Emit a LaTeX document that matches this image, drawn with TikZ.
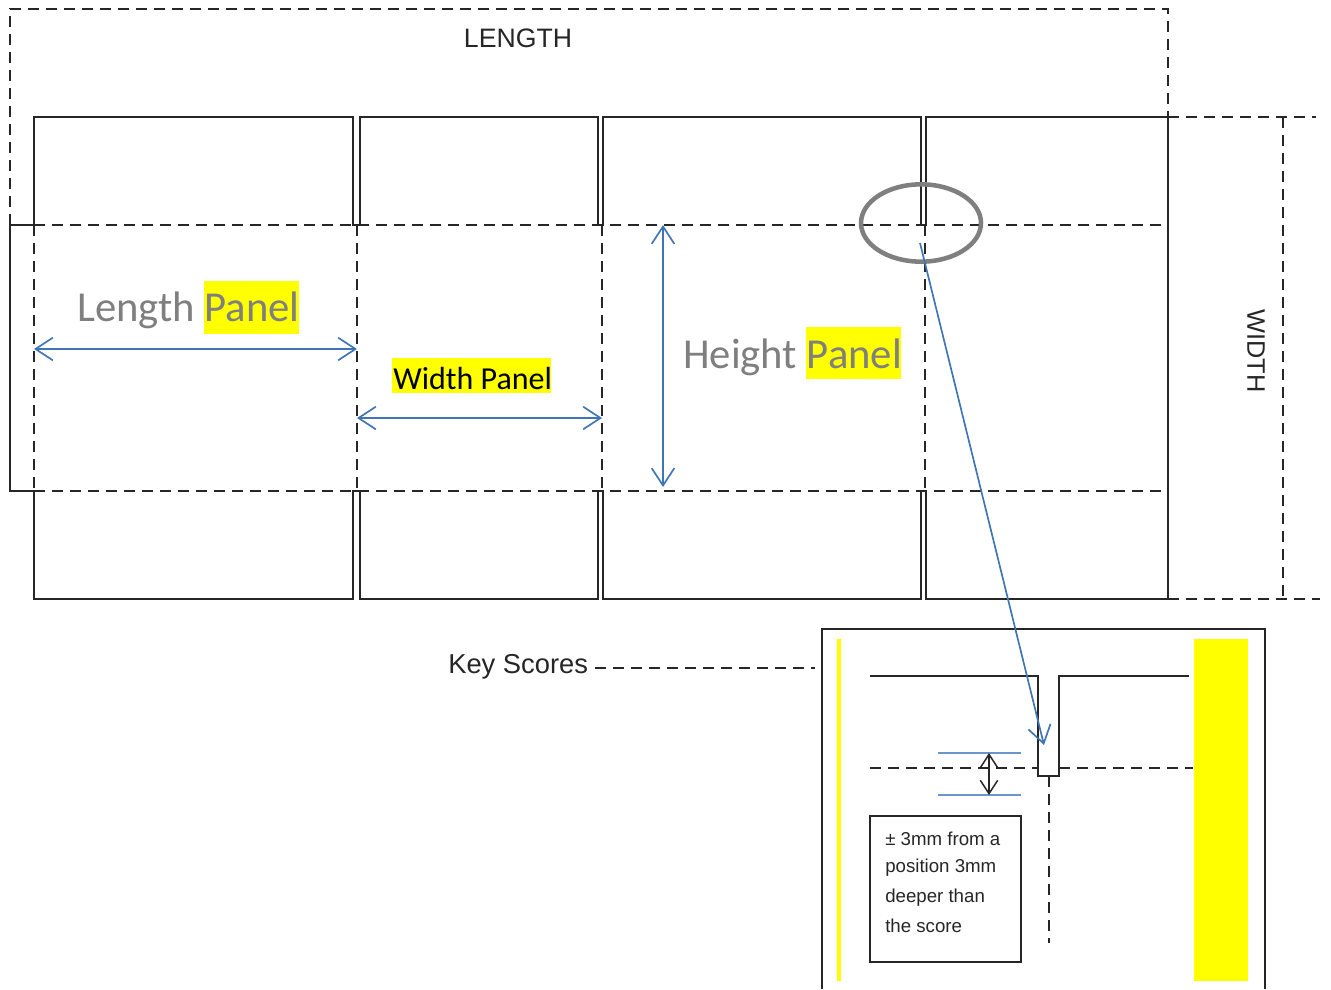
\documentclass[tikz,border=0pt]{standalone}
\usepackage{fontspec}
\setmainfont{Liberation Sans}
\newfontfamily\calib{Carlito}
\usetikzlibrary{arrows.meta,shapes.geometric}
\definecolor{arrowblue}{RGB}{63,117,181}
\definecolor{ruleblue}{RGB}{106,150,204}
\definecolor{labelgray}{RGB}{127,127,127}
\definecolor{ink}{RGB}{38,38,38}
\definecolor{hiyellow}{RGB}{255,255,0}
\tikzset{
  solidline/.style={draw=ink,line width=1.1pt,line join=miter},
  dashline/.style={draw=ink,line width=1pt,dash pattern=on 8.5pt off 5pt},
  bluearrow/.style={draw=arrowblue,line width=1.25pt,{Straight Barb[length=13pt,width=17pt,line width=1.25pt]}-{Straight Barb[length=13pt,width=17pt,line width=1.25pt]}},
  oneway/.style={draw=arrowblue,line width=1.25pt,-{Straight Barb[length=13pt,width=17pt,line width=1.25pt]}},
  hilite/.style={fill=hiyellow,draw=none},
  biglabel/.style={inner sep=0pt,text=labelgray,font=\calib\fontsize{32}{32}\selectfont},
  notetext/.style={inner sep=0pt,anchor=west,text=ink,font=\fontsize{14}{15}\selectfont}
}
\begin{document}
\begin{tikzpicture}[x=0.75pt,y=-0.75pt]
\useasboundingbox (0,0) rectangle (1331,989);
\fill[white] (0,0) rectangle (1331,989);
% highlights
\fill[hilite] (204,281) rectangle (299,334);
\fill[hilite] (392,358) rectangle (551,393);
\fill[hilite] (806,327) rectangle (901,379);
% outer dashed glue flap
\draw[dashline] (10,225) -- (10,9) -- (1168,9) -- (1168,117);
\draw[solidline] (34,225) -- (10,225) -- (10,491) -- (34,491);
% flaps
\draw[solidline] (34,225) -- (34,117) -- (353,117) -- (353,225) -- (360,225) -- (360,117) -- (598,117) -- (598,225) -- (603,225) -- (603,117) -- (921,117) -- (921,225) -- (926,225) -- (926,117) -- (1168,117) -- (1168,599) -- (926,599) -- (926,491) -- (921,491) -- (921,599) -- (603,599) -- (603,491) -- (598,491) -- (598,599) -- (360,599) -- (360,491) -- (353,491) -- (353,599) -- (34,599) -- (34,491);
% fold lines
\draw[dashline] (34,225) -- (1168,225);
\draw[dashline] (34,491) -- (1168,491);
\foreach \xx in {34,357,602,925} \draw[dashline] (\xx,225) -- (\xx,491);
% width dimension
\draw[dashline] (1168,117) -- (1316,117);
\draw[dashline] (1168,599) -- (1320,599);
\draw[dashline] (1283,117) -- (1283,599);
% labels
\node[inner sep=0pt,text=ink,font=\fontsize{20}{22}\selectfont] (lengthlabel) at (518,38) {LENGTH};
\node[inner sep=0pt,text=ink,font=\fontsize{19}{22}\selectfont,rotate=-90] (widthlabel) at (1256,351) {WIDTH};
\node[inner sep=0pt,text=ink,font=\fontsize{20.5}{22}\selectfont,anchor=west] (keyscores) at (448,667) {Key Scores};
\node[biglabel,anchor=west] (lengthpanel) at (77,310) {Length Panel};
\node[biglabel,anchor=west] (heightpanel) at (683,357) {Height Panel};
\node[inner sep=0pt,anchor=west,text=black,font=\calib\fontsize{24}{24}\selectfont] (widthpanel) at (393,379) {Width Panel};
% dimension arrows
\coordinate (la) at (34,349); \coordinate (lb) at (357,349);
\coordinate (wa) at (357,418); \coordinate (wb) at (602,418);
\coordinate (ha) at (663,225); \coordinate (hb) at (663,487);
\draw[bluearrow] (la) -- (lb);
\draw[bluearrow] (wa) -- (wb);
\draw[bluearrow] (ha) -- (hb);
% inset
\draw[dashline] (595,668) -- (815,668);
\draw[solidline] (822,989) -- (822,629) -- (1265,629) -- (1265,989);
\fill[hilite] (837,639) rectangle (841,981);
\fill[hilite] (1194,639) rectangle (1248,981);
\draw[solidline] (870,676) -- (1038,676) -- (1038,776) -- (1059,776) -- (1059,676) -- (1189,676);
\draw[dashline] (870,768) -- (1038,768);
\draw[dashline] (1059,768) -- (1193,768);
\draw[dashline] (1049,776) -- (1049,943);
\draw[draw=ruleblue,line width=1pt] (938,753) -- (1021,753);
\draw[draw=ruleblue,line width=1pt] (938,795) -- (1021,795);
\coordinate (da) at (989,753); \coordinate (db) at (989,795);
\draw[draw=ink,line width=1.1pt,{Straight Barb[length=10pt,width=13pt,line width=1.1pt]}-{Straight Barb[length=10pt,width=13pt,line width=1.1pt]}] (da) -- (db);
\node[draw=ink,line width=1.1pt,minimum width=113.25pt,minimum height=109.5pt,inner sep=0pt] (notebox) at (945.5,889) {};
\node[notetext] (n1) at (885,839) {± 3mm from a};
\node[notetext] (n2) at (885,868) {position 3mm};
\node[notetext] (n3) at (885,898) {deeper than};
\node[notetext] (n4) at (885,926) {the score};
% callout
\node[draw=labelgray,line width=3.4pt,ellipse,minimum width=90pt,minimum height=58pt,inner sep=0pt] (ring) at (921,223) {};
\coordinate (ca) at (920,243); \coordinate (cb) at (1044,745);
\draw[oneway] (ca) -- (cb);
\end{tikzpicture}
\end{document}
